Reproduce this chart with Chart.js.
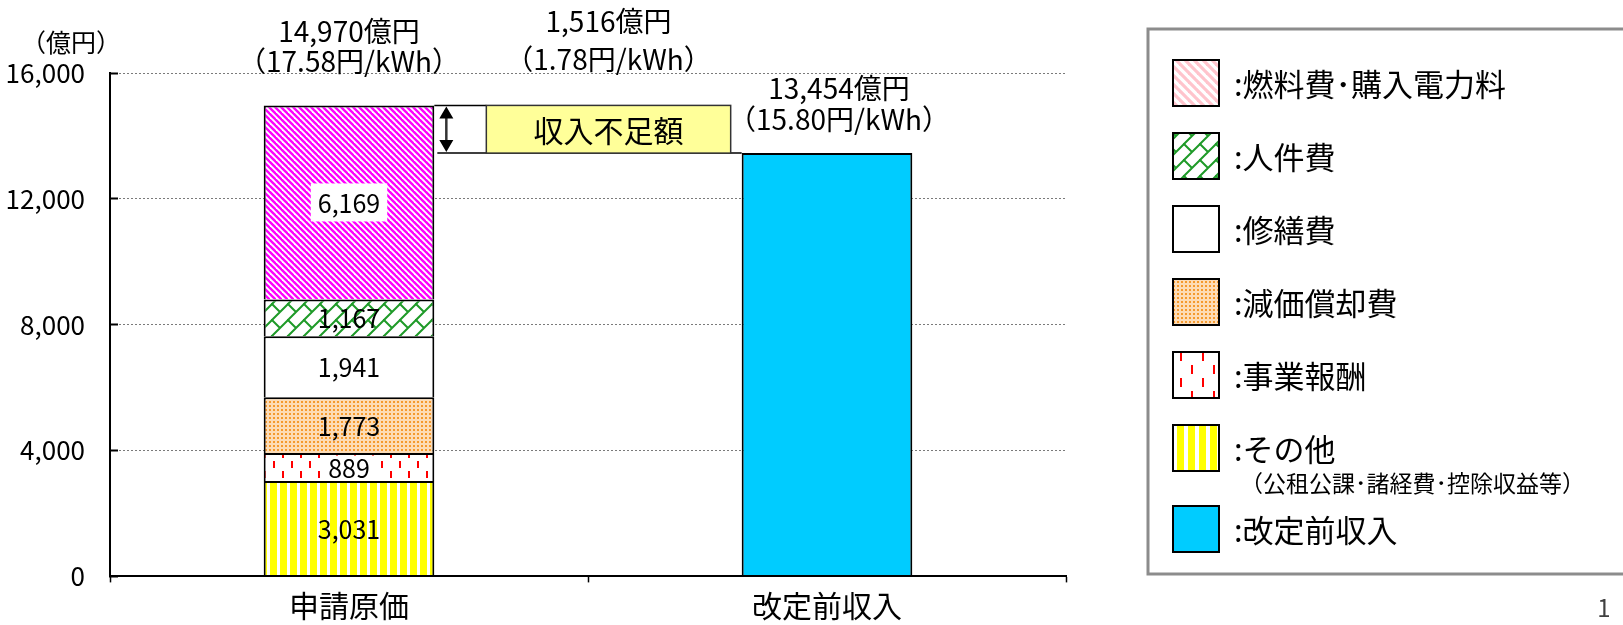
<!DOCTYPE html>
<html lang="ja">
<head>
<meta charset="utf-8">
<script src="https://cdn.jsdelivr.net/npm/chart.js@4.4.1/dist/chart.umd.min.js"></script>
<style>
  html, body { margin: 0; padding: 0; background: #fff; }
  #wrap { width: 1623px; height: 625px; position: relative; }
</style>
</head>
<body>
<div id="wrap"><canvas id="chart" width="1623" height="625"></canvas></div>
<script>
// data (億円)
const categories = ['申請原価', '改定前収入']
const costLabels = ['その他', '事業報酬', '減価償却費', '修繕費', '人件費', '燃料費・購入電力料']
const costValues = [3031, 889, 1773, 1941, 1167, 6169]
const revenueLabel = '改定前収入'
const revenueValue = 13454
const totalCost = 14970
const shortfall = 1516
const unitPrices = ['17.58', '1.78', '15.80'] // 円/kWh : cost, shortfall, revenue
const yTicks = [0, 4000, 8000, 12000, 16000]
const legendLabels = ['燃料費･購入電力料', '人件費', '修繕費', '減価償却費', '事業報酬', 'その他', '改定前収入']
const legendNote = '（公租公課･諸経費･控除収益等）'

const FONT = "'Noto Sans CJK JP', 'Noto Sans', sans-serif"
const fmt = (v) => v.toLocaleString('en-US')

const ctxMain = document.getElementById('chart').getContext('2d')

function tile(w, h, draw) {
  const c = document.createElement('canvas')
  c.width = w
  c.height = h
  const g = c.getContext('2d')
  g.fillStyle = '#fff'
  g.fillRect(0, 0, w, h)
  draw(g, w, h)
  return ctxMain.createPattern(c, 'repeat')
}

const diagStripes = (s, color, lw) =>
  tile(s, s, (g) => {
    g.strokeStyle = color
    g.lineWidth = lw
    for (let k = -1; k <= 1; k++) {
      g.beginPath()
      g.moveTo(k * s - 2, -2)
      g.lineTo(k * s + s + 2, s + 2)
      g.stroke()
    }
  })

const diagBrick = (s, color, lw) =>
  tile(s, s, (g) => {
    g.strokeStyle = color
    g.lineWidth = lw
    g.lineCap = 'round'
    for (const dx of [-s, 0, s]) {
      for (const dy of [-s, 0, s]) {
        g.beginPath()
        g.moveTo(dx, dy + s)
        g.lineTo(dx + s, dy)
        g.moveTo(dx, dy)
        g.lineTo(dx + s / 2, dy + s / 2)
        g.stroke()
      }
    }
  })

const dots = tile(4, 4, (g) => {
  g.fillStyle = '#fddcb6'
  g.fillRect(0, 0, 4, 4)
  g.fillStyle = '#f59a2e'
  g.fillRect(1, 1, 2, 2)
})

const dashes = (w, h, len) =>
  tile(w, h, (g) => {
    g.fillStyle = '#ff0000'
    g.fillRect(Math.round(w * 0.15), Math.round(h * 0.05), 2, len)
    g.fillRect(Math.round(w * 0.65), Math.round(h * 0.55), 2, len)
  })

const vStripes = (p, yw) =>
  tile(p, 2, (g) => {
    g.fillStyle = '#ffff00'
    g.fillRect(0, 0, yw, 2)
  })

const barFills = [vStripes(10, 7), dashes(18, 20, 7), dots, '#ffffff', diagBrick(16, '#1e9a28', 2), diagStripes(6, '#ff00ff', 2.4)]
const labelBoxes = [false, true, false, false, false, true]
const legendFills = [
  diagStripes(9, '#ffc4cc', 3.2),
  diagBrick(16, '#1e9a28', 2),
  '#ffffff',
  dots,
  dashes(22, 26, 9),
  vStripes(11, 7),
  '#00ccff',
]

const datasets = costLabels.map((label, i) => ({
  label,
  data: [costValues[i], null],
  backgroundColor: barFills[i],
  labelBox: labelBoxes[i],
}))
datasets.push({ label: revenueLabel, data: [null, revenueValue], backgroundColor: '#00ccff' })

const annotations = {
  id: 'annotations',
  afterDatasetsDraw(chart) {
    const ctx = chart.ctx
    const y = chart.scales.y
    const costTop = chart.getDatasetMeta(costLabels.length - 1).data[0]
    const rev = chart.getDatasetMeta(costLabels.length).data[1]
    ctx.save()
    ctx.textAlign = 'center'
    ctx.textBaseline = 'middle'

    // segment values
    ctx.font = `25px ${FONT}`
    costLabels.forEach((l, i) => {
      const el = chart.getDatasetMeta(i).data[0]
      const cy = (el.y + el.base) / 2
      const t = fmt(costValues[i])
      if (datasets[i].labelBox) {
        const w = ctx.measureText(t).width
        const bh = Math.min(38, Math.abs(el.base - el.y) - 5)
        ctx.fillStyle = '#fff'
        ctx.fillRect(el.x - w / 2 - 7, cy - bh / 2, w + 14, bh)
      }
      ctx.fillStyle = '#000'
      ctx.fillText(t, el.x, cy + 1)
    })

    // totals above bars
    ctx.font = `28px ${FONT}`
    ctx.fillStyle = '#000'
    ctx.fillText(`${fmt(totalCost)}億円`, costTop.x, costTop.y - 74)
    ctx.fillText(`（${unitPrices[0]}円/kWh）`, costTop.x, costTop.y - 44)
    ctx.fillText(`${fmt(revenueValue)}億円`, rev.x + 12, rev.y - 65)
    ctx.fillText(`（${unitPrices[2]}円/kWh）`, rev.x + 12, rev.y - 34)

    // shortfall box between the bars
    const yHi = y.getPixelForValue(totalCost)
    const yLo = y.getPixelForValue(totalCost - shortfall)
    const b1r = costTop.x + costTop.width / 2
    const b2l = rev.x - rev.width / 2
    const boxL = b1r + 52
    const boxR = b2l - 11
    ctx.strokeStyle = '#000'
    ctx.lineWidth = 1.5
    ctx.beginPath()
    ctx.moveTo(b1r, yHi)
    ctx.lineTo(boxL, yHi)
    ctx.moveTo(b1r + 3, yLo)
    ctx.lineTo(b2l, yLo)
    ctx.stroke()
    ctx.fillStyle = '#ffff99'
    ctx.fillRect(boxL, yHi, boxR - boxL, yLo - yHi)
    ctx.strokeStyle = '#333'
    ctx.strokeRect(boxL, yHi, boxR - boxL, yLo - yHi)
    ctx.fillStyle = '#000'
    ctx.font = `30px ${FONT}`
    ctx.fillText('収入不足額', (boxL + boxR) / 2, (yHi + yLo) / 2 + 1)

    // double arrow
    const ax = b1r + 12
    ctx.lineWidth = 2.5
    ctx.beginPath()
    ctx.moveTo(ax, yHi + 10)
    ctx.lineTo(ax, yLo - 10)
    ctx.stroke()
    ctx.beginPath()
    ctx.moveTo(ax, yHi + 1)
    ctx.lineTo(ax - 7, yHi + 13)
    ctx.lineTo(ax + 7, yHi + 13)
    ctx.closePath()
    ctx.moveTo(ax, yLo - 1)
    ctx.lineTo(ax - 7, yLo - 13)
    ctx.lineTo(ax + 7, yLo - 13)
    ctx.closePath()
    ctx.fill()

    ctx.font = `28px ${FONT}`
    ctx.fillText(`${fmt(shortfall)}億円`, (boxL + boxR) / 2, 21)
    ctx.fillText(`（${unitPrices[1]}円/kWh）`, (boxL + boxR) / 2, 59)

    // unit
    ctx.font = `25px ${FONT}`
    ctx.fillText('（億円）', 71, 42)
    ctx.restore()
  },
}

const sideLegend = {
  id: 'sideLegend',
  afterDraw(chart) {
    const ctx = chart.ctx
    ctx.save()
    ctx.strokeStyle = '#8c8c8c'
    ctx.lineWidth = 3
    ctx.strokeRect(1148, 29, 500, 545)
    let top = 60
    legendLabels.forEach((l, i) => {
      if (i === legendLabels.length - 1) top += 8
      ctx.fillStyle = legendFills[i]
      ctx.fillRect(1173, top, 46, 46)
      ctx.strokeStyle = '#000'
      ctx.lineWidth = 2
      ctx.strokeRect(1173, top, 46, 46)
      ctx.fillStyle = '#000'
      ctx.textAlign = 'left'
      ctx.textBaseline = 'middle'
      ctx.font = `31px ${FONT}`
      ctx.fillText(':' + l, 1234, top + 24)
      if (l === 'その他') {
        ctx.font = `23px ${FONT}`
        ctx.fillText(legendNote, 1240, top + 58)
      }
      top += 73
    })
    ctx.fillStyle = '#404040'
    ctx.font = `24px ${FONT}`
    ctx.textAlign = 'center'
    ctx.fillText('1', 1604, 608)
    ctx.restore()
  },
}

Chart.defaults.font.family = FONT
Chart.defaults.color = '#000'

new Chart(ctxMain, {
  type: 'bar',
  data: { labels: categories, datasets },
  options: {
    responsive: false,
    animation: false,
    layout: { padding: { top: 73, right: 557, left: 0, bottom: 0 } },
    datasets: {
      bar: {
        borderColor: '#000',
        borderWidth: 2,
        borderSkipped: 'bottom',
        barPercentage: 0.357,
        categoryPercentage: 1,
      },
    },
    plugins: { legend: { display: false }, tooltip: { enabled: false } },
    scales: {
      x: {
        stacked: true,
        grid: { drawOnChartArea: false, drawTicks: true, tickLength: 6, tickColor: '#000', tickWidth: 1.5 },
        border: { color: '#000', width: 2, z: 1 },
        ticks: { font: { size: 30, lineHeight: 1 }, padding: 8 },
        afterFit: (s) => {
          s.height = 45
        },
      },
      y: {
        stacked: true,
        min: 0,
        max: 16000,
        afterBuildTicks: (s) => {
          s.ticks = yTicks.map((v) => ({ value: v }))
        },
        grid: { color: '#7a7a7a', lineWidth: 1, drawTicks: true, tickLength: -8, tickColor: '#000', tickWidth: 2 },
        border: { color: '#000', width: 2, z: 1, dash: [2, 2] },
        ticks: { font: { size: 26 }, padding: 33, callback: (v) => fmt(v) },
        afterFit: (s) => {
          s.width = 110
        },
      },
    },
  },
  plugins: [annotations, sideLegend],
})
</script>
</body>
</html>
